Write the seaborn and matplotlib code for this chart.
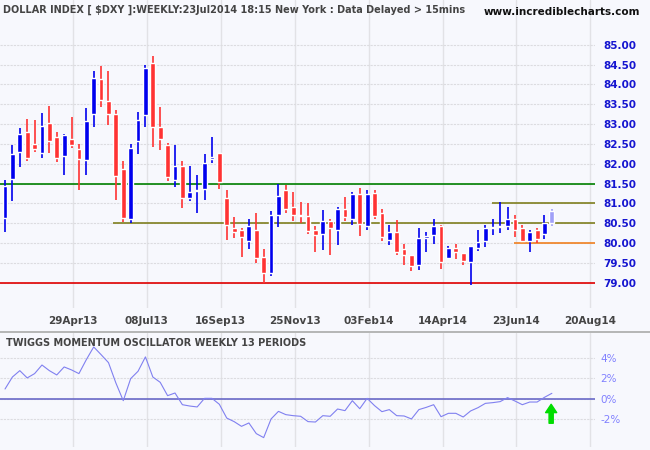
import matplotlib
matplotlib.use("Agg")
import matplotlib.pyplot as plt
import seaborn as sns
import numpy as np
import pandas as pd

opens = [80.63,81.61,82.29,82.81,82.51,82.27,83.04,82.68,82.19,82.63,82.38,82.09,83.25,84.14,83.59,83.26,81.87,80.60,82.57,83.22,
         84.55,82.94,82.48,81.59,81.94,81.13,81.31,81.36,82.11,82.28,81.15,80.39,80.32,80.05,80.34,79.66,79.24,80.70,81.33,80.91,
         80.71,80.68,80.32,80.23,80.55,80.33,80.85,80.60,81.24,80.43,81.27,80.75,80.08,80.27,79.85,79.69,79.45,80.13,80.20,80.42,
         79.62,79.89,79.74,79.52,79.87,80.05,80.38,80.40,80.43,80.62,80.37,80.05,80.33,80.23,80.52]
closes = [81.45,82.26,82.76,82.14,82.37,82.96,82.57,82.14,82.73,82.47,82.11,83.09,84.17,83.62,83.25,81.69,80.63,82.41,83.11,84.42,
          82.92,82.62,81.66,81.94,81.13,81.30,81.35,82.03,82.16,81.54,80.45,80.28,80.15,80.42,79.62,79.24,80.72,81.20,80.86,80.70,
          80.68,80.30,80.20,80.55,80.37,80.87,80.66,81.24,80.48,81.25,80.68,80.15,80.27,79.77,79.71,79.42,80.12,80.19,80.42,79.52,
          79.87,79.77,79.55,79.92,80.04,80.39,80.40,80.42,80.62,80.34,80.05,80.27,80.10,80.52,80.82]
highs = [81.58,82.48,82.91,83.14,83.10,83.29,83.46,82.81,82.76,83.19,82.51,83.41,84.35,84.47,84.35,83.36,82.06,82.51,83.31,84.50,
         84.72,83.44,82.53,82.48,82.06,81.94,81.71,82.26,82.67,82.28,81.35,80.65,80.38,80.60,80.75,79.85,80.81,81.48,81.46,81.30,
         81.03,81.01,80.42,80.83,80.62,80.91,81.17,81.30,81.38,81.33,81.33,80.85,80.46,80.58,79.99,79.69,80.37,80.29,80.60,80.45,
         79.92,79.98,79.74,79.92,80.34,80.45,80.60,81.03,80.91,80.70,80.45,80.34,80.37,80.70,80.85]
lows = [80.28,81.07,81.91,82.06,82.29,82.14,82.27,82.04,81.71,82.39,81.33,81.71,82.94,83.42,82.97,81.08,80.53,80.51,82.24,82.94,
        82.42,82.34,81.56,81.41,80.88,81.06,80.76,81.10,82.01,81.36,80.08,80.13,79.65,79.84,79.50,79.00,79.17,80.40,80.76,80.55,
        80.50,80.23,79.77,79.82,79.70,79.95,80.55,80.45,80.18,80.33,80.60,80.06,79.95,79.70,79.45,79.29,79.32,79.78,79.97,79.34,
        79.60,79.60,79.45,78.94,79.80,79.90,80.20,80.25,80.33,80.15,80.03,79.77,80.00,80.10,80.43]
momentum = [0.94,2.11,2.73,2.02,2.44,3.28,2.73,2.31,3.09,2.80,2.44,3.80,5.04,4.29,3.51,1.53,-0.20,1.95,2.67,4.07,
            2.11,1.59,0.29,0.55,-0.59,-0.72,-0.81,0.03,0.03,-0.55,-1.89,-2.24,-2.70,-2.37,-3.41,-3.80,-1.98,-1.24,-1.56,-1.66,
            -1.72,-2.24,-2.28,-1.66,-1.72,-1.01,-1.17,-0.20,-0.98,0.03,-0.68,-1.27,-1.07,-1.66,-1.69,-1.98,-1.07,-0.85,-0.59,-1.76,
            -1.43,-1.43,-1.79,-1.20,-0.88,-0.46,-0.39,-0.29,0.10,-0.23,-0.59,-0.33,-0.33,0.13,0.52]
date_labels = ["29Apr13","08Jul13","16Sep13","25Nov13","03Feb14","14Apr14","23Jun14","20Aug14"]
date_pos = [9.2,19.2,29.2,39.2,49.2,59.2,69.2,79.2]
price_ticks = [79.0,79.5,80.0,80.5,81.0,81.5,82.0,82.5,83.0,83.5,84.0,84.5,85.0]
osc_ticks = [-2,0,2,4]

df = pd.DataFrame({"i": np.arange(len(opens)), "open": opens, "close": closes,
                   "high": highs, "low": lows, "mom": momentum})

sns.set_theme(style="white")
bg = "#F7F8FD"
fig = plt.figure(figsize=(6.5, 4.5), dpi=100)
fig.patch.set_facecolor(bg)
ax = fig.add_axes([0.0, 0.316, 0.915, 0.684])
ax2 = fig.add_axes([0.0, 0.007, 0.915, 0.253])
XL = (-0.68, 79.8)
for a in (ax, ax2):
    a.set_facecolor(bg)
    a.set_xlim(*XL)
    for s in a.spines.values():
        s.set_visible(False)
    for p in date_pos:
        a.axvline(p, color="#E2E2E6", lw=1, zorder=0)

ax.set_ylim(78.37, 86.13)
for t in price_ticks:
    ax.axhline(t, color="#DCDCE0", lw=0.8, ls=(0, (2, 1)), zorder=0)

n = len(df)
cols = []
for k in range(n):
    if k == n - 1:
        cols.append("#A0A0F8")
    elif closes[k] >= opens[k]:
        cols.append("#0000EE")
    else:
        cols.append("#FF3333")
ax.vlines(df["i"], df["low"], df["high"], colors=cols, lw=1.2, zorder=3)
bot = np.minimum(df["open"], df["close"])
hgt = np.maximum(np.abs(df["close"] - df["open"]), 0.03)
ax.bar(df["i"], hgt, bottom=bot, width=0.65, color=cols, zorder=4)

ax.axhline(81.5, color="#008000", lw=1.2, zorder=2)
ax.axhline(79.0, color="#E00000", lw=1.2, zorder=2)
ax.hlines(80.5, 14.6, XL[1], color="#7F7F1F", lw=1.2, zorder=2)
ax.hlines(81.0, 65.9, XL[1], color="#7F7F1F", lw=1.2, zorder=2)
ax.hlines(80.0, 68.9, XL[1], color="#F08020", lw=1.2, zorder=2)

ax.yaxis.tick_right()
ax.set_yticks(price_ticks)
ax.set_yticklabels([f"{t:.2f}" for t in price_ticks], color="#1515D0",
                   fontsize=7.5, fontweight="bold")
ax.tick_params(axis="y", length=0, pad=6)
ax.set_xticks(date_pos)
ax.set_xticklabels(date_labels, fontsize=7.5, fontweight="bold", color="#444444")
ax.tick_params(axis="x", length=0, pad=6)
ax.text(0.005, 0.985, "DOLLAR INDEX [ $DXY ]:WEEKLY:23Jul2014 18:15 New York : Data Delayed > 15mins",
        transform=ax.transAxes, fontsize=7, fontweight="bold", color="#444444", va="top")
fig.text(0.985, 0.985, "www.incrediblecharts.com", fontsize=7.5, fontweight="bold",
         color="#111111", ha="right", va="top")

ax2.set_ylim(-4.7, 6.4)
for t in osc_ticks:
    ax2.axhline(t, color="#DCDCE0", lw=0.8, ls=(0, (2, 1)), zorder=0)
ax2.axhline(0, color="#6A6AC8", lw=1.2, zorder=2)
sns.lineplot(data=df, x="i", y="mom", ax=ax2, color="#8080F0", lw=0.8, zorder=3)
ax2.set_xlabel(""); ax2.set_ylabel("")
ax2.set_xticks([])
ax2.yaxis.tick_right()
ax2.set_yticks(osc_ticks)
ax2.set_yticklabels([f"{t}%" for t in osc_ticks], color="#8080FF", fontsize=7.5)
ax2.tick_params(axis="y", length=0, pad=4)
ax2.text(0.01, 0.96, "TWIGGS MOMENTUM OSCILLATOR WEEKLY 13 PERIODS", transform=ax2.transAxes,
         fontsize=7, fontweight="bold", color="#444444", va="top")
ax2.annotate("", xy=(73.9, -0.55), xytext=(73.9, -2.4),
             arrowprops=dict(facecolor="#00DD00", edgecolor="#00DD00", width=3, headwidth=8, headlength=6))
line = plt.Line2D([0, 1], [0.262, 0.262], transform=fig.transFigure, color="#AAAAAA", lw=1.2)
fig.add_artist(line)
fig.savefig("out.png", dpi=100, facecolor=bg)
